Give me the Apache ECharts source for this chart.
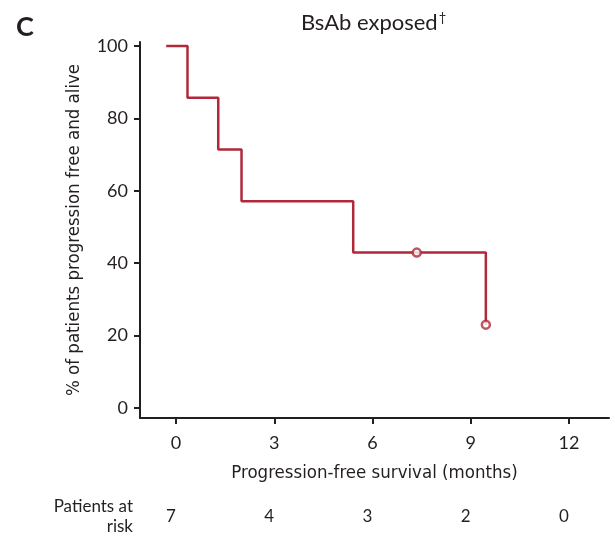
<!DOCTYPE html>
<html><head><meta charset="utf-8">
<script src="https://cdn.jsdelivr.net/npm/echarts@6/dist/echarts.min.js"></script>
<style>html,body{margin:0;padding:0;background:#fff}#c{width:615px;height:541px}</style>
</head><body><div id="c"></div>
<script>
// Kaplan-Meier step data (months, % progression free and alive)
const times = [-0.3, 0.35, 1.29, 2.0, 5.41, 9.46];
const survival = [100, 85.7, 71.4, 57.1, 42.9, 23];
// censored observations
const censorTimes = [7.35, 9.46];
const censorValues = [42.9, 23];
// axis ticks
const xTicks = [0, 3, 6, 9, 12];
const yTicks = [0, 20, 40, 60, 80, 100];
// patients at risk at each x tick
const atRisk = [7, 4, 3, 2, 0];

const INK = '#231f20';
const RED = '#b0283a';
const NARROW = '"DejaVu Sans Condensed"';
const chart = echarts.init(document.getElementById('c'), null, {renderer: 'canvas'});
const curve = times.map((t, i) => [t, survival[i]]);
const censors = censorTimes.map((t, i) => [t, censorValues[i]]);

chart.setOption({
  animation: false,
  backgroundColor: '#fff',
  title: {
    text: '{t|BsAb exposed}{s|†}',
    left: 296, top: 6,
    textStyle: {
      fontWeight: 'normal',
      rich: {
        t: {fontFamily: 'Lato', fontSize: 22, fontWeight: 'normal', color: INK},
        s: {fontFamily: 'Lato', fontSize: 13, fontWeight: 'normal', color: INK, verticalAlign: 'top', padding: [0, 0, 10, 1]}
      }
    }
  },
  graphic: [
    {type: 'text', left: 16, top: 14, style: {text: 'C', font: 'bold 27px Lato', fill: INK}},
    {type: 'text', x: 133, y: 497, style: {text: 'Patients at\nrisk', font: '17px Lato', fill: INK, align: 'right', verticalAlign: 'top', lineHeight: 20}}
  ],
  grid: {left: 140, right: 6, top: 42, bottom: 123, containLabel: false},
  xAxis: [{
    type: 'value', min: -1.1, max: 13.22,
    name: 'Progression-free survival (months)', nameLocation: 'middle', nameGap: 46,
    nameTextStyle: {fontFamily: NARROW, fontSize: 18.5, color: INK},
    axisLine: {show: true, onZero: false, lineStyle: {color: INK, width: 2}},
    axisTick: {show: true, customValues: xTicks, length: 6, lineStyle: {color: INK, width: 2}},
    axisLabel: {customValues: xTicks, margin: 16, fontFamily: 'Lato', fontSize: 18, color: INK},
    splitLine: {show: false}
  }, {
    type: 'value', min: -1.1, max: 13.22, position: 'bottom', offset: 80,
    axisLine: {show: false}, axisTick: {show: false}, splitLine: {show: false},
    axisLabel: {customValues: xTicks, margin: 10, fontFamily: 'Lato', fontSize: 17, color: INK,
      padding: [0, 10, 0, 0],
      formatter: v => String(atRisk[xTicks.indexOf(v)])}
  }],
  yAxis: {
    type: 'value', min: -2.8, max: 101.1,
    name: '% of patients progression free and alive', nameLocation: 'middle', nameGap: 56,
    nameTextStyle: {fontFamily: NARROW, fontSize: 18.5, color: INK},
    axisLine: {show: true, onZero: false, lineStyle: {color: INK, width: 2}},
    axisTick: {show: true, customValues: yTicks, length: 6, lineStyle: {color: INK, width: 2}},
    axisLabel: {customValues: yTicks, margin: 12, fontFamily: 'Lato', fontSize: 18, color: INK},
    splitLine: {show: false}
  },
  series: [{
    type: 'line', step: 'end', data: curve, showSymbol: false, symbol: 'none',
    lineStyle: {color: RED, width: 2.5}, z: 3
  }, {
    type: 'scatter', data: censors, symbol: 'circle', symbolSize: 8,
    itemStyle: {color: '#fff', borderColor: RED, borderWidth: 2.5}, z: 4
  }]
});
</script></body></html>
